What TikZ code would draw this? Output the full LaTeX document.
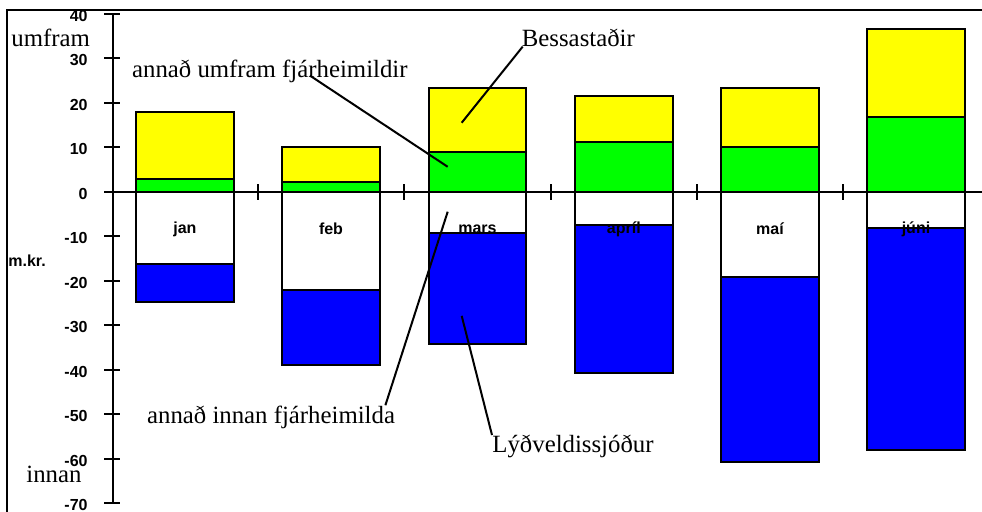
\documentclass[tikz,border=0pt]{standalone}
\usepackage{fontspec}
\setmainfont{Liberation Serif}
\newfontfamily\chartsans{Liberation Sans}
\usetikzlibrary{positioning,calc}
\definecolor{barYellow}{RGB}{255,255,0}
\definecolor{barGreen}{RGB}{0,255,0}
\definecolor{barBlue}{RGB}{0,0,255}
\tikzset{
    bar/.style={
        draw=black, line width=1pt
    },
    ticklabel/.style={
        anchor=east, inner sep=0pt,
        font=\chartsans\bfseries\fontsize{8}{9}\selectfont
    },
    month/.style={
        inner sep=0pt,
        font=\chartsans\bfseries\fontsize{8}{9}\selectfont
    },
    callout/.style={
        anchor=base west, inner sep=0pt,
        font=\fontsize{12.4}{14}\selectfont
    },
    leader/.style={
        draw, line width=1pt
    }
}

\begin{document}
\begin{tikzpicture}[x=0.5pt, y=2.225pt]
        \useasboundingbox (0,-71.96) rectangle (982,43.08);

        % Frame
        \draw[line width=0.75pt] (7,-80) -- (7,40.83) -- (990,40.83);

        % Bars
        \foreach \cx/\g/\yl/\w/\b/\name/\id in {
            184.9/2.8/17.9/-16.3/-24.8/jan/jan,
            331.0/2.2/10.1/-22.2/-38.9/feb/feb,
            477.5/9.0/23.3/-9.2/-34.3/mars/mar,
            623.8/11.2/21.4/-7.4/-40.7/apríl/apr,
            770.0/10.1/23.2/-19.1/-60.8/maí/mai,
            916.0/16.8/36.6/-8.2/-58.0/júni/jun} {
            \draw[bar, fill=barGreen] ({\cx-48.75},0) rectangle ({\cx+48.75},\g);
            \draw[bar, fill=barYellow] ({\cx-48.75},\g) rectangle ({\cx+48.75},\yl);
            \draw[bar, fill=white] ({\cx-48.75},0) rectangle ({\cx+48.75},\w);
            \draw[bar, fill=barBlue] ({\cx-48.75},\w) rectangle ({\cx+48.75},\b);
            \node[month] (m\id) at (\cx,-8.4) {\name};
        }

        % Axes
        \draw[line width=1pt] (112.5,-70) -- (112.5,40);
        \draw[line width=1pt] (104,0) -- (990,0);
        \foreach \v in {-70,-60,...,40} {
            \draw[line width=1pt] (104,\v) -- (120,\v);
            \node[ticklabel] (t\v) at (88,\v) [yshift=-1pt] {\v};
        }
        \foreach \t in {258.2,404.4,550.6,696.8,843.0}
            \draw[line width=1pt] (\t,-1.8) -- (\t,1.7);

        % Axis texts
        \node[callout] (lblUmfram) at (11,32.6) {umfram};
        \node[callout] (lblInnan) at (26,-65.3) {innan};
        \node[ticklabel, anchor=base west] (lblMkr) at (8,-16.85) {m.kr.};

        % Callouts
        \node[callout] (lblAnnadUmfram) at (131.7,25.7) {annað umfram fjárheimildir};
        \node[callout] (lblBessa) at (521.5,32.6) {Bessastaðir};
        \node[callout] (lblAnnadInnan) at (146.7,-52.0) {annað innan fjárheimilda};
        \node[callout] (lblLydv) at (492,-58.7) {Lýðveldissjóður};

        \coordinate (ptGreen) at (447.7,5.6);
        \coordinate (ptYellow) at (461.7,15.5);
        \coordinate (ptWhite) at (447.7,-4.5);
        \coordinate (ptBlue) at (461.7,-27.9);

        \draw[leader] ($(lblAnnadUmfram.base west)!0.645!(lblAnnadUmfram.base east)+(0,0.4)$) -- (ptGreen);
        \draw[leader] ([xshift=0.6pt]lblBessa.base west) -- (ptYellow);
        \draw[leader] ([xshift=-5pt]lblAnnadInnan.north east) -- (ptWhite);
        \draw[leader] (lblLydv.north west) -- (ptBlue);

    \end{tikzpicture}
\end{document}
